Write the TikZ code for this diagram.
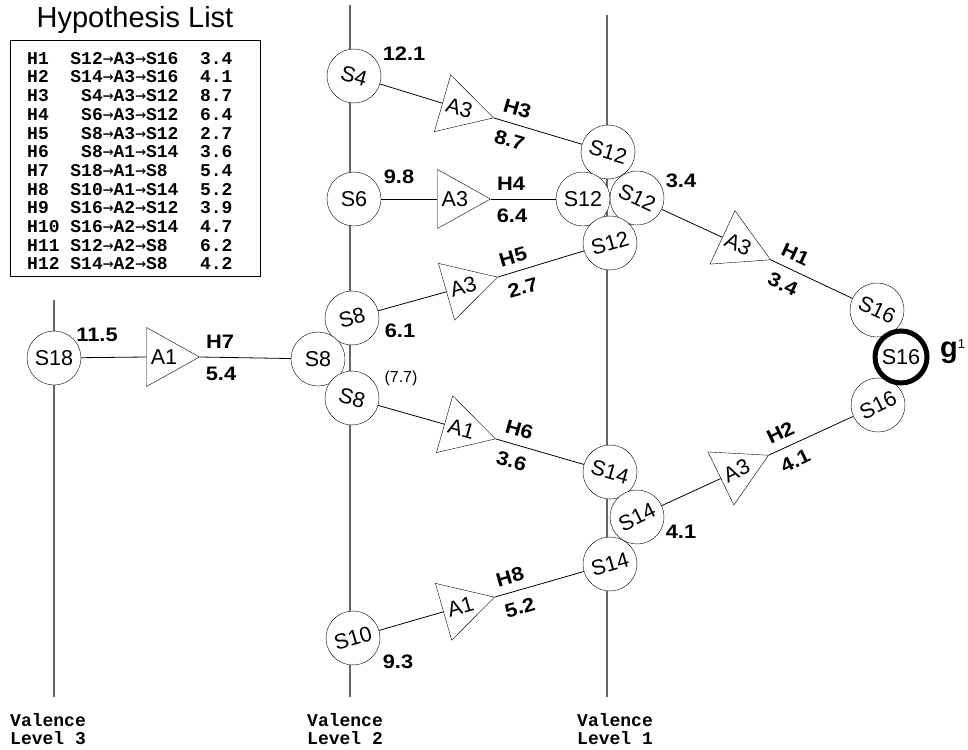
\documentclass[tikz,border=0pt]{standalone}
\usepackage{fontspec}
\setmainfont{Liberation Sans}
\newfontfamily\listmono{Liberation Mono}
\newfontfamily\arrowmono{DejaVu Sans Mono}
\newfontfamily\widesans[FakeStretch=1.12]{Liberation Sans}
\usetikzlibrary{shapes.geometric,calc}

\newcommand{\nodefont}{\fontsize{21.5}{24}\selectfont}
\newcommand{\scorefont}{\widesans\fontsize{19.5}{22}\selectfont\bfseries}
\newcommand{\notefont}{\fontsize{16}{18}\selectfont}
\newcommand{\listfont}{\listmono\bfseries\fontsize{18}{18.7}\selectfont}
\newcommand{\headfont}{\fontsize{29}{30}\selectfont}
\newcommand{\goalfont}{\fontsize{29}{30}\selectfont\bfseries}
\newcommand{\ra}{{\arrowmono\mdseries →}}

\begin{document}
\begin{tikzpicture}[
    x=1pt, y=1pt,
    state/.style={circle, draw, fill=white, minimum size=54pt, inner sep=0pt, font=\nodefont},
    goal/.style={state, line width=5pt, minimum size=52pt},
    act/.style={isosceles triangle, isosceles triangle stretches, draw, fill=white,
      minimum width=59pt, minimum height=53pt, inner sep=0pt, anchor=apex, font=\nodefont},
    hlab/.style={font=\scorefont, inner sep=0pt},
    score/.style={font=\scorefont, inner sep=0pt},
    note/.style={font=\notefont, inner sep=0pt},
    conn/.style={line width=0.8pt},
    level/.style={draw=black!60, line width=1.2pt},
    valence/.style={font=\listfont, align=left, anchor=north west, inner sep=0pt}
  ]
  \useasboundingbox (0,0) rectangle (968,-749);

  % hypothesis list
  \node[font=\headfont] (head) at (135,-20) {Hypothesis List};
  \node[draw, anchor=north west, minimum width=250pt, minimum height=236pt, inner sep=0pt] (listbox) at (10,-40) {};
  \node[valence] (hyps) at (27,-52) {%
    H1~~S12\ra A3\ra S16~~3.4\\
    H2~~S14\ra A3\ra S16~~4.1\\
    H3~~~S4\ra A3\ra S12~~8.7\\
    H4~~~S6\ra A3\ra S12~~6.4\\
    H5~~~S8\ra A3\ra S12~~2.7\\
    H6~~~S8\ra A1\ra S14~~3.6\\
    H7~~S18\ra A1\ra S8~~~5.4\\
    H8~~S10\ra A1\ra S14~~5.2\\
    H9~~S16\ra A2\ra S12~~3.9\\
    H10~S16\ra A2\ra S14~~4.7\\
    H11~S12\ra A2\ra S8~~~6.2\\
    H12~S14\ra A2\ra S8~~~4.2};

  % valence levels
  \coordinate (l3top) at (54,-300);  \coordinate (l3bot) at (54,-697);
  \coordinate (l2top) at (350,-5);   \coordinate (l2bot) at (350,-697);
  \coordinate (l1top) at (607,-15);  \coordinate (l1bot) at (607,-697);
  \draw[level] (l3top) -- (l3bot);
  \draw[level] (l2top) -- (l2bot);
  \draw[level] (l1top) -- (l1bot);

  \node[valence] (lv3) at (10,-713) {Valence\\Level 3};
  \node[valence] (lv2) at (307,-713) {Valence\\Level 2};
  \node[valence] (lv1) at (577,-713) {Valence\\Level 1};

  % states
  \node[state] (s18) at (54,-358) {S18};
  \node[state, rotate=-16] (s4) at (354,-76) {S4};
  \node[state] (s6) at (354,-199) {S6};
  \node[state, rotate=16] (s8a) at (352,-318) {S8};
  \node[state] (s8b) at (318,-359) {S8};
  \node[state, rotate=-16] (s8c) at (352,-398) {S8};
  \node[state, rotate=16] (s10) at (353,-638) {S10};
  \node[state, rotate=-16] (s12a) at (608,-152) {S12};
  \node[state] (s12b) at (583,-199) {S12};
  \node[state, rotate=-25] (s12c) at (637,-198) {S12};
  \node[state, rotate=16] (s12d) at (610,-243) {S12};
  \node[state, rotate=-16] (s14a) at (610,-472) {S14};
  \node[state, rotate=26] (s14b) at (637,-517) {S14};
  \node[state, rotate=16] (s14c) at (610,-564) {S14};
  \node[state, rotate=-25] (s16a) at (877,-310) {S16};
  \node[state, rotate=26] (s16b) at (878,-405) {S16};
  \node[goal] (s16g) at (901,-357) {S16};
  \node[anchor=base west, inner sep=0pt, font=\goalfont] (gname) at (940,-357)
    {g\raisebox{9pt}{\fontsize{13}{13}\selectfont\mdseries 1}};

  % actions
  \node[act, rotate=-16] (t3) at (494,-118) {A3};
  \node[act] (t4) at (491,-199) {A3};
  \node[act, rotate=16] (t5) at (498,-277) {A3};
  \node[act, rotate=-25] (t1) at (771,-260) {A3};
  \node[act, rotate=26] (t2) at (769,-455) {A3};
  \node[act] (t7) at (200,-357) {A1};
  \node[act, rotate=-16] (t6) at (496,-439) {A1};
  \node[act, rotate=16] (t8) at (495,-597) {A1};

  \draw[conn] (s4) -- (t3.lower side);   \draw[conn] (t3.apex) -- (s12a);
  \draw[conn] (s6) -- (t4.lower side);   \draw[conn] (t4.apex) -- (s12b);
  \draw[conn] (s8a) -- (t5.lower side);  \draw[conn] (t5.apex) -- (s12d);
  \draw[conn] (s12c) -- (t1.lower side); \draw[conn] (t1.apex) -- (s16a);
  \draw[conn] (s14b) -- (t2.lower side); \draw[conn] (t2.apex) -- (s16b);
  \draw[conn] (s18) -- (t7.lower side);  \draw[conn] (t7.apex) -- (s8b);
  \draw[conn] (s8c) -- (t6.lower side);  \draw[conn] (t6.apex) -- (s14a);
  \draw[conn] (s10) -- (t8.lower side);  \draw[conn] (t8.apex) -- (s14c);

  % hypothesis labels
  \node[hlab, rotate=-16] (h3) at ($(t3.apex)+(21:25)$) {H3};
  \node[score, rotate=-16] (v3) at ($(t3.apex)+(-55:27)$) {8.7};
  \node[hlab] (h4) at ($(t4.apex)+(37:25)$) {H4};
  \node[score] (v4) at ($(t4.apex)+(-39:27)$) {6.4};
  \node[hlab, rotate=16] (h5) at ($(t5.apex)+(53:25)$) {H5};
  \node[score, rotate=16] (v5) at ($(t5.apex)+(-23:27)$) {2.7};
  \node[hlab, rotate=-25] (h1) at ($(t1.apex)+(12:25)$) {H1};
  \node[score, rotate=-25] (v1) at ($(t1.apex)+(-64:27)$) {3.4};
  \node[hlab, rotate=26] (h2) at ($(t2.apex)+(63:25)$) {H2};
  \node[score, rotate=26] (v2) at ($(t2.apex)+(-13:27)$) {4.1};
  \node[hlab] (h7) at ($(t7.apex)+(37:25)$) {H7};
  \node[score] (v7) at ($(t7.apex)+(-39:27)$) {5.4};
  \node[hlab, rotate=-16] (h6) at ($(t6.apex)+(21:25)$) {H6};
  \node[score, rotate=-16] (v6) at ($(t6.apex)+(-55:27)$) {3.6};
  \node[hlab, rotate=16] (h8) at ($(t8.apex)+(53:25)$) {H8};
  \node[score, rotate=16] (v8) at ($(t8.apex)+(-23:27)$) {5.2};

  % path scores
  \node[score] (c4) at (404,-54) {12.1};
  \node[score] (c6) at (399,-177) {9.8};
  \node[score] (c8a) at (400,-331) {6.1};
  \node[note] (c8c) at (401,-378) {(7.7)};
  \node[score] (c10) at (398,-662) {9.3};
  \node[score] (c18) at (97,-335) {11.5};
  \node[score] (c12c) at (681,-181) {3.4};
  \node[score] (c14b) at (681,-532) {4.1};
\end{tikzpicture}
\end{document}
